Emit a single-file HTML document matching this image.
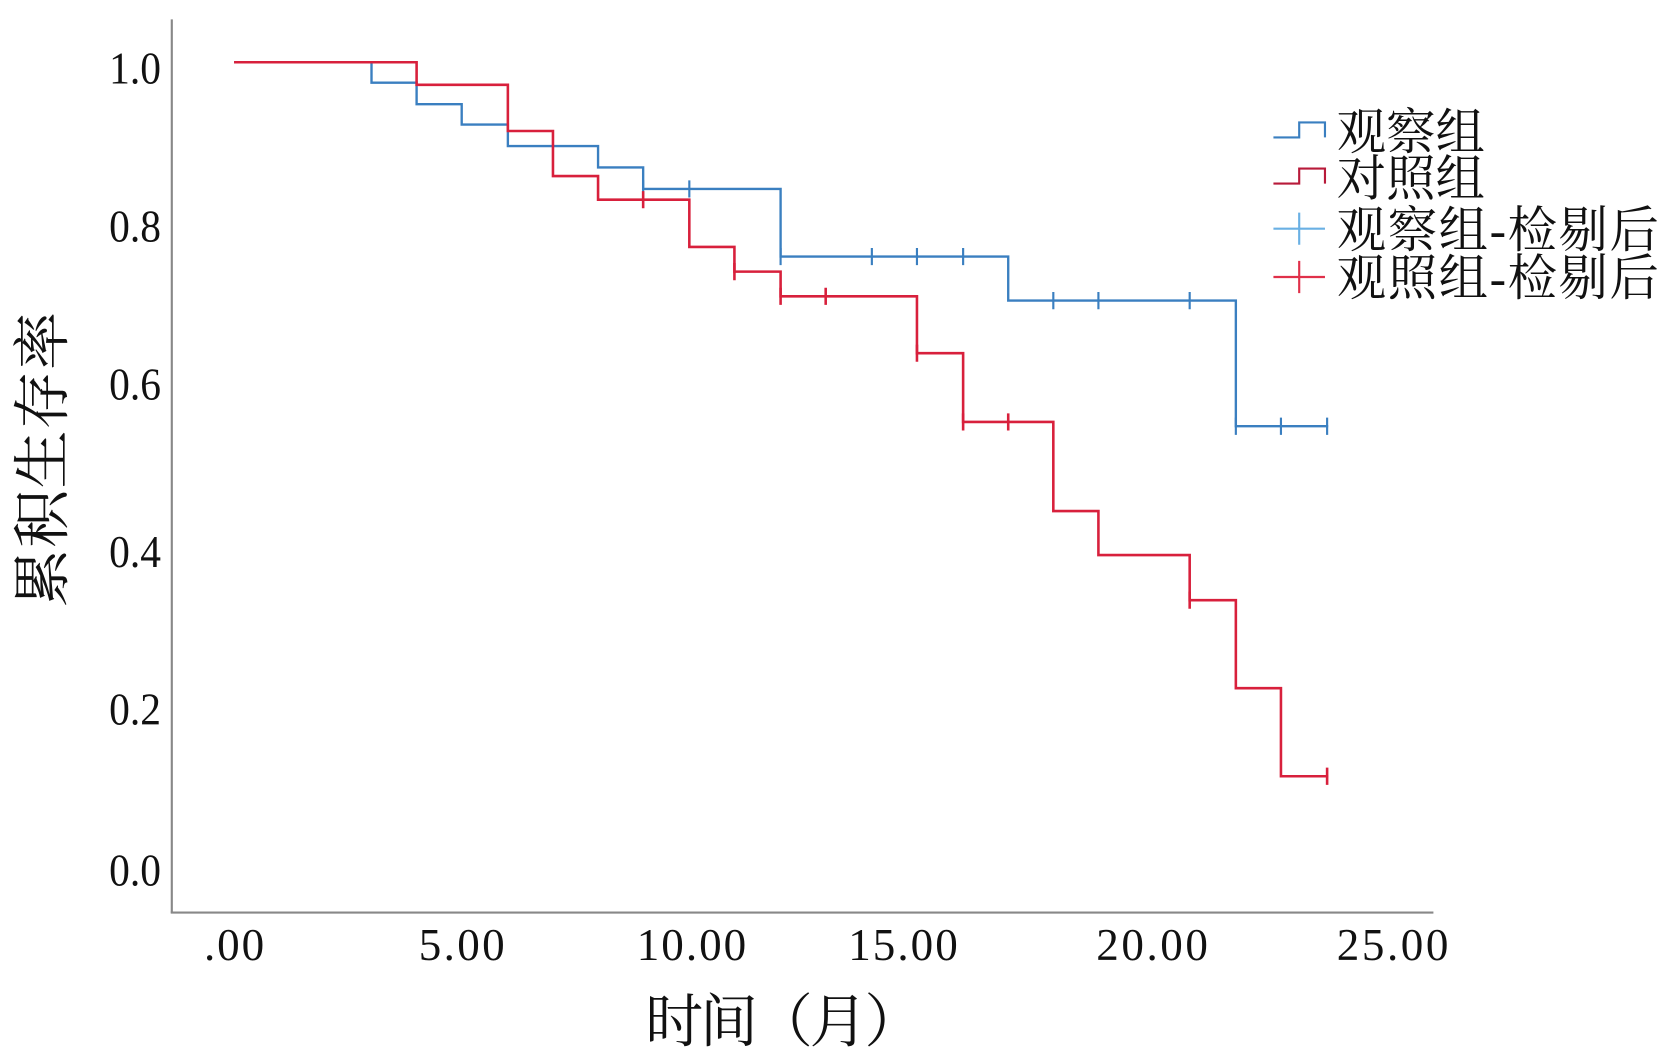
<!DOCTYPE html>
<html><head><meta charset="utf-8"><style>
html,body{margin:0;padding:0;background:#fff;}
svg{display:block}
text{font-family:"Liberation Serif","Noto Serif CJK SC",serif;fill:#111}
</style></head><body>
<svg width="1675" height="1050" viewBox="0 0 1560 978" preserveAspectRatio="none" xmlns="http://www.w3.org/2000/svg">
<line x1="160" y1="18" x2="160" y2="850" stroke="#888" stroke-width="2"/>
<line x1="159" y1="850" x2="1335" y2="850" stroke="#888" stroke-width="2"/>
<g font-size="42" text-anchor="end" transform="scale(0.92,1)">
<text x="163" y="78">1.0</text>
<text x="163" y="225">0.8</text>
<text x="163" y="372">0.6</text>
<text x="163" y="528">0.4</text>
<text x="163" y="675">0.2</text>
<text x="163" y="825">0.0</text>
</g>
<g font-size="42" text-anchor="middle">
<text x="218" y="894" textLength="56">.00</text>
<text x="430" y="894" textLength="80">5.00</text>
<text x="644" y="894" textLength="102">10.00</text>
<text x="841" y="894" textLength="102">15.00</text>
<text x="1073" y="894" textLength="104">20.00</text>
<text x="1297" y="894" textLength="104">25.00</text>
</g>
<text x="730" y="970" font-size="54" text-anchor="middle" textLength="258">时间（月）</text>
<text transform="translate(58,428) rotate(-90)" font-size="54" text-anchor="middle" textLength="275">累积生存率</text>
<!-- blue -->
<path d="M218,58 H346 V77 H388 V97 H430 V116 H473 V136 H557 V156 H599 V176 H727 V239 H939 V280 H1151 V397 H1237" fill="none" stroke="#3a7fc0" stroke-width="2.2"/>
<g stroke="#3a7fc0" stroke-width="2">
<path d="M599,168V184 M642,168V184 M727,231V247 M812,231V247 M854,231V247 M897,231V247 M981,272V288 M1023,272V288 M1108,272V288 M1151,389V405 M1193,389V405 M1236,389V405"/>
</g>
<!-- red -->
<path d="M218,58 H388 V79 H473 V122 H515 V164 H557 V186 H642 V230 H684 V253 H727 V276 H854 V329 H897 V393 H981 V476 H1023 V517 H1108 V559 H1151 V641 H1193 V723 H1237" fill="none" stroke="#d8203c" stroke-width="2.4"/>
<g stroke="#d8203c" stroke-width="2.4">
<path d="M599,178V194 M684,245V261 M727,268V284 M769,268V284 M854,321V337 M897,385V401 M939,385V401 M1108,551V567 M1236,715V731"/>
</g>
<!-- legend -->
<path d="M1186,128 H1210 V114 H1234 V128" fill="none" stroke="#3a7fc0" stroke-width="2"/>
<path d="M1186,171 H1210 V157 H1234 V171" fill="none" stroke="#b81a3a" stroke-width="2"/>
<path d="M1186,213 H1234 M1210,198 V228" stroke="#6ab0e4" stroke-width="2"/>
<path d="M1186,258 H1234 M1210,243 V273" stroke="#e0304a" stroke-width="2"/>
<g font-size="46">
<text x="1245" y="139" textLength="138">观察组</text>
<text x="1245" y="182" textLength="138">对照组</text>
<text x="1245" y="230" textLength="300">观察组-检剔后</text>
<text x="1245" y="275" textLength="300">观照组-检剔后</text>
</g>
</svg>
</body></html>
